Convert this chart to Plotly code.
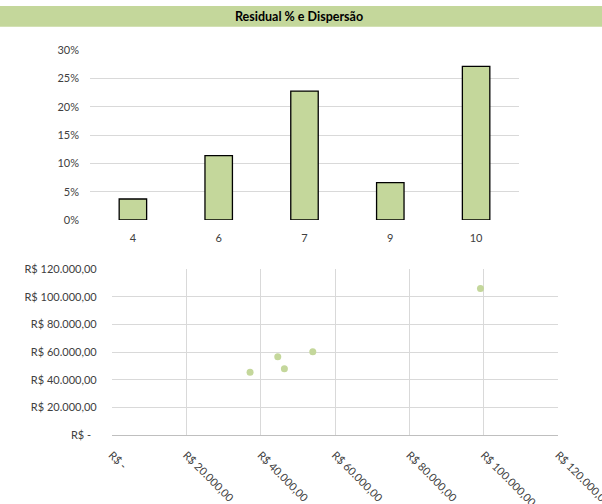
import plotly.graph_objects as go

W, H = 602, 504

# Bar chart data
categories = ["4", "6", "7", "9", "10"]
residual_pct = [0.0371, 0.1135, 0.2276, 0.0658, 0.2712]
bar_ticks = [0, 0.05, 0.10, 0.15, 0.20, 0.25, 0.30]
bar_tick_text = ["0%", "5%", "10%", "15%", "20%", "25%", "30%"]

# Scatter data
scatter_x = [37180, 44620, 46400, 54030, 99090]
scatter_y = [45490, 56750, 48090, 60360, 105850]
money_ticks = [0, 20000, 40000, 60000, 80000, 100000, 120000]
money_text_y = ["R$ -\u00a0\u00a0", "R$ 20.000,00", "R$ 40.000,00", "R$ 60.000,00",
                "R$ 80.000,00", "R$ 100.000,00", "R$ 120.000,00"]
money_text_x = ["R$ -", "R$ 20.000,00", "R$ 40.000,00", "R$ 60.000,00",
                "R$ 80.000,00", "R$ 100.000,00", "R$ 120.000,00"]

title = "Residual % e Dispersão"

GREEN = "#C4D79B"
GRID = "#D9D9D9"
TXT = "#404040"
FONT = "Lato"

def px_x(v):
    return v / W

def px_y(v):
    return 1 - v / H

fig = go.Figure()
fig.add_trace(go.Bar(
    x=categories, y=residual_pct, xaxis="x", yaxis="y",
    marker=dict(color=GREEN, line=dict(color="#000000", width=1.3)),
    showlegend=False, hoverinfo="skip"))
fig.add_trace(go.Scatter(
    x=scatter_x, y=scatter_y, xaxis="x2", yaxis="y2", mode="markers",
    marker=dict(color=GREEN, size=7, line=dict(width=0)),
    showlegend=False, hoverinfo="skip", cliponaxis=False))

fig.update_layout(
    template="none",
    width=W, height=H,
    margin=dict(l=0, r=0, t=0, b=0, pad=0, autoexpand=False),
    paper_bgcolor="white", plot_bgcolor="white",
    font=dict(family=FONT, size=11, color=TXT),
    bargap=0.68,
    xaxis=dict(domain=[px_x(90), px_x(519)], anchor="y", type="category",
               showgrid=False, showline=False, zeroline=False, automargin=False,
               ticks="", ticklabelstandoff=10, tickfont=dict(color=TXT),
               fixedrange=True),
    yaxis=dict(domain=[px_y(220), px_y(50)], anchor="x", range=[0, 0.30],
               tickvals=bar_ticks, ticktext=bar_tick_text, automargin=False,
               showgrid=True, gridcolor=GRID, gridwidth=1,
               showline=False, zeroline=False, ticks="",
               ticklabelstandoff=10, tickfont=dict(color=TXT),
               fixedrange=True),
    xaxis2=dict(domain=[px_x(111.7), px_x(558.3)], anchor="y2", range=[0, 120000],
                tickvals=money_ticks, ticktext=money_text_x, tickangle=45,
                ticklabeloverflow="allow",
                showgrid=True, gridcolor=GRID, gridwidth=1, automargin=False,
                showline=True, linecolor="#BFBFBF", linewidth=1, zeroline=False,
                ticks="", ticklabelstandoff=8, tickfont=dict(color=TXT),
                fixedrange=True),
    yaxis2=dict(domain=[px_y(435.3), px_y(269)], anchor="x2", range=[0, 120000],
                tickvals=money_ticks, ticktext=money_text_y, automargin=False,
                showgrid=True, gridcolor=GRID, gridwidth=1,
                showline=False, zeroline=False, ticks="",
                ticklabelstandoff=14, tickfont=dict(color=TXT),
                fixedrange=True),
    shapes=[dict(type="rect", xref="paper", yref="paper",
                 x0=0, x1=1, y0=px_y(26.7), y1=px_y(6),
                 fillcolor=GREEN, line=dict(width=0), layer="below")],
    annotations=[dict(text="<b>" + title + "</b>", xref="paper", yref="paper",
                      x=px_x(299), y=px_y(16.3), xanchor="center", yanchor="middle",
                      showarrow=False, font=dict(family=FONT, size=12.5, color="#000000"))],
)

fig.write_html("out.html", config={"displayModeBar": False, "staticPlot": True},
               post_script="document.body.style.margin='0';")
